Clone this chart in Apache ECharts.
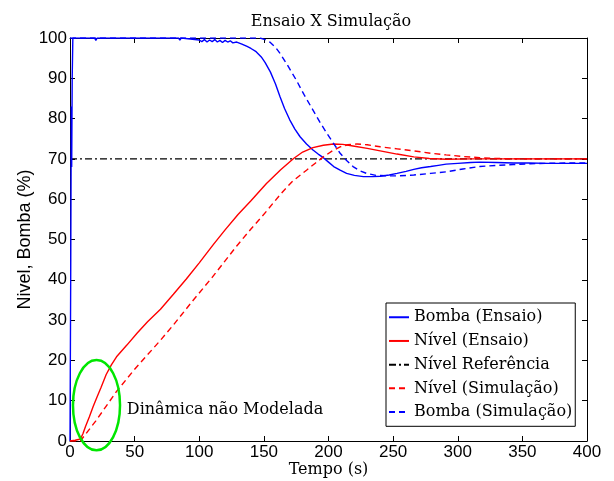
<!DOCTYPE html>
<html>
<head>
<meta charset="utf-8">
<script src="https://cdn.jsdelivr.net/npm/echarts@6/dist/echarts.min.js"></script>
<style>html,body{margin:0;padding:0;background:#fff;}#c{width:614px;height:481px;}</style>
</head>
<body>
<div id="c"></div>
<script>
// ---- data ----
const titleText = 'Ensaio X Simulação';
const xName = 'Tempo (s)';
const yName = 'Nivel, Bomba (%)';
const seriesNames = ['Bomba (Ensaio)', 'Nível (Ensaio)', 'Nível Referência', 'Nível (Simulação)', 'Bomba (Simulação)'];
const xTicks = [0, 50, 100, 150, 200, 250, 300, 350, 400];
const yTicks = [0, 10, 20, 30, 40, 50, 60, 70, 80, 90, 100];

const bombaEnsaioT = [0, 0.6, 1.0, 1.3, 1.7, 2.2, 10, 19, 20, 21, 40, 60, 84, 85, 86, 100, 102, 104, 106, 108, 110, 112, 114, 116, 118, 120, 122, 124, 126, 129, 133, 137, 140, 144, 148, 151, 155, 159, 162.5, 166, 170, 174, 178, 183, 188, 192, 196, 200, 204, 209, 214, 220, 227, 234, 240, 247, 253, 260, 266, 272, 279, 285, 291, 300, 310, 317, 330, 343, 355, 370, 385, 400];
const bombaEnsaioV = [0, 45, 83, 68, 90, 100, 100, 100, 99.4, 100, 100, 100, 100, 99.5, 100, 99.5, 99.1, 99.6, 99.0, 99.5, 99.1, 99.6, 99.0, 99.4, 98.9, 99.4, 99.0, 99.3, 98.8, 99.0, 98.5, 97.9, 97.4, 96.6, 95.3, 93.9, 91.6, 88.6, 85.4, 82.5, 79.7, 77.4, 75.5, 73.7, 72.2, 71.2, 70.3, 69.2, 68.1, 67.2, 66.4, 65.9, 65.6, 65.6, 65.7, 66.0, 66.4, 66.9, 67.4, 67.8, 68.1, 68.4, 68.7, 68.9, 69.1, 69.2, 69.1, 69.0, 69.0, 68.9, 68.9, 68.9];

const nivelEnsaioT = [0, 4, 8, 10, 12, 15, 18, 21, 24, 28, 32, 36, 44, 52, 60, 70, 80, 90, 100, 111, 120, 130, 140, 152, 163, 173, 180, 188, 196, 204, 211, 219, 230, 240, 253, 266, 278, 291, 310, 340, 370, 400];
const nivelEnsaioV = [0, 0.2, 0.5, 1.8, 3.6, 6.0, 8.6, 11.0, 13.3, 16.5, 18.9, 20.9, 23.8, 26.8, 29.6, 32.7, 36.4, 40.2, 44.2, 48.8, 52.4, 56.2, 59.6, 63.9, 67.3, 70.1, 71.7, 72.8, 73.4, 73.7, 73.6, 73.2, 72.6, 72.0, 71.2, 70.5, 70.1, 69.9, 70.0, 70.0, 70.0, 70.0];

const refT = [0, 400];
const refV = [70, 70];

const nivelSimT = [0, 8, 20, 36, 50, 70, 80, 95, 110, 129, 140, 152, 163, 172, 183, 190, 196, 203, 209, 215, 222, 230, 240, 253, 266, 279, 291, 304, 317, 330, 350, 375, 400];
const nivelSimV = [0, 0, 5.0, 12.3, 17.8, 25.0, 28.8, 34.8, 40.6, 48.4, 52.6, 57.0, 61.3, 64.4, 67.2, 69.0, 70.5, 72.0, 73.0, 73.5, 73.7, 73.5, 73.0, 72.5, 72.0, 71.4, 71.0, 70.6, 70.3, 70.1, 70.0, 70.0, 70.0];

const bombaSimT = [0, 100, 147, 151, 155, 159, 162.5, 168, 175, 181, 188, 193, 198.6, 204, 209, 214, 219, 224, 229.5, 237, 245, 255, 266, 279, 291, 304, 317, 330, 343, 356, 369, 385, 400];
const bombaSimV = [100, 100, 100, 99.6, 98.9, 97.7, 96.2, 93.4, 89.6, 86.0, 82.1, 79.3, 76.4, 73.8, 71.4, 69.6, 68.1, 67.1, 66.4, 65.9, 65.8, 65.8, 66.0, 66.4, 66.8, 67.5, 68.1, 68.4, 68.6, 68.8, 68.9, 69.0, 69.0];

// annotation
const noteText = 'Dinâmica não Modelada';
const noteAnchor = [44, 7.7];       // data coords of text left-middle
const ellipseCenter = [20.5, 8.9];  // data coords
const ellipseRadius = [18.2, 11.2]; // data units (x, y)

function zip(t, v) { return t.map((x, i) => [x, v[i]]); }

const chart = echarts.init(document.getElementById('c'), null, {renderer: 'canvas'});
const sans = '"Liberation Sans", Arial, sans-serif';
const serif = '"DejaVu Serif", serif';

const axisCommon = {
  axisLine: {show: true, onZero: false, lineStyle: {color: '#000', width: 1}},
  axisTick: {show: true, inside: true, length: 5, lineStyle: {color: '#000'}},
  splitLine: {show: false}
};

const option = {
  backgroundColor: '#fff',
  animation: false,
  title: {
    text: titleText, left: 326, top: 9, textAlign: 'center',
    textStyle: {fontFamily: serif, fontSize: 16, fontWeight: 'normal', color: '#000'}
  },
  grid: {left: 70, right: 27, top: 38, bottom: 40, outerBoundsMode: 'none', containLabel: false},
  legend: {
    orient: 'vertical', left: 386, top: 303,
    data: seriesNames,
    backgroundColor: '#fff', borderColor: '#000', borderWidth: 1, borderRadius: 0,
    padding: [6, 3, 6, 2],
    itemWidth: 20, itemHeight: 10, itemGap: 7.2,
    itemStyle: {color: 'rgba(0,0,0,0)', borderColor: 'rgba(0,0,0,0)', borderWidth: 0, opacity: 0},
    textStyle: {fontFamily: serif, fontSize: 16, color: '#000', lineHeight: 16.5},
    selectedMode: false
  },
  xAxis: [
    Object.assign({}, axisCommon, {
      type: 'value', min: xTicks[0], max: xTicks[xTicks.length - 1], interval: xTicks[1] - xTicks[0],
      name: xName, nameLocation: 'middle', nameGap: 21, nameMoveOverlap: false,
      nameTextStyle: {fontFamily: serif, fontSize: 16, color: '#000'},
      axisLabel: {fontFamily: sans, fontSize: 17, color: '#000', margin: 3}
    }),
    Object.assign({}, axisCommon, {
      type: 'value', position: 'top', min: xTicks[0], max: xTicks[xTicks.length - 1], interval: xTicks[1] - xTicks[0],
      axisLabel: {show: false}
    })
  ],
  yAxis: [
    Object.assign({}, axisCommon, {
      type: 'value', min: yTicks[0], max: yTicks[yTicks.length - 1], interval: yTicks[1] - yTicks[0],
      name: yName, nameLocation: 'middle', nameGap: 36, nameMoveOverlap: false,
      nameTextStyle: {fontFamily: sans, fontSize: 18, color: '#000'},
      axisLabel: {fontFamily: sans, fontSize: 17, color: '#000', margin: 3}
    }),
    Object.assign({}, axisCommon, {
      type: 'value', position: 'right', min: yTicks[0], max: yTicks[yTicks.length - 1], interval: yTicks[1] - yTicks[0],
      axisLabel: {show: false}
    })
  ],
  series: [
    {name: seriesNames[0], type: 'line', data: zip(bombaEnsaioT, bombaEnsaioV), symbol: 'none', clip: true,
     lineStyle: {color: '#0000ff', width: 1.4, type: 'solid'}, itemStyle: {color: '#0000ff'}, z: 3},
    {name: seriesNames[1], type: 'line', data: zip(nivelEnsaioT, nivelEnsaioV), symbol: 'none',
     lineStyle: {color: '#ff0000', width: 1.4, type: 'solid'}, itemStyle: {color: '#ff0000'}, z: 3},
    {name: seriesNames[2], type: 'line', data: zip(refT, refV), symbol: 'none',
     lineStyle: {color: '#000', width: 1.2, type: [7, 3, 2, 3]}, itemStyle: {color: '#000'}, z: 2},
    {name: seriesNames[3], type: 'line', data: zip(nivelSimT, nivelSimV), symbol: 'none',
     lineStyle: {color: '#ff0000', width: 1.4, type: [6, 4]}, itemStyle: {color: '#ff0000'}, z: 3},
    {name: seriesNames[4], type: 'line', data: zip(bombaSimT, bombaSimV), symbol: 'none',
     lineStyle: {color: '#0000ff', width: 1.4, type: [6, 4]}, itemStyle: {color: '#0000ff'}, z: 3}
  ]
};
chart.setOption(option);

const c0 = chart.convertToPixel({gridIndex: 0}, ellipseCenter);
const cx1 = chart.convertToPixel({gridIndex: 0}, [ellipseCenter[0] + ellipseRadius[0], ellipseCenter[1] + ellipseRadius[1]]);
const np = chart.convertToPixel({gridIndex: 0}, noteAnchor);
chart.setOption({
  graphic: [
    {type: 'ellipse', z: 10, shape: {cx: c0[0], cy: c0[1], rx: Math.abs(cx1[0] - c0[0]), ry: Math.abs(cx1[1] - c0[1])},
     style: {fill: 'none', stroke: '#00e600', lineWidth: 2.5}},
    {type: 'text', z: 10, x: np[0], y: np[1],
     style: {text: noteText, font: '16px ' + serif, fill: '#000', align: 'left', verticalAlign: 'middle'}}
  ]
});
</script>
</body>
</html>
